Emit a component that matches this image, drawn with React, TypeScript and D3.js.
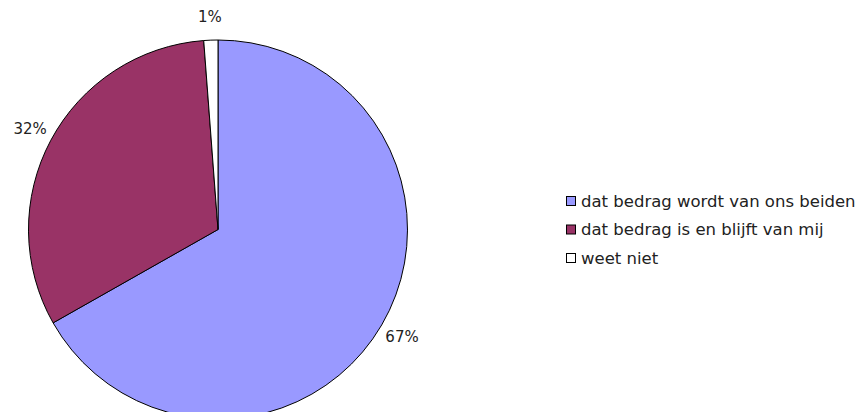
import React from "react";
import * as d3 from "d3";

const categories = ["dat bedrag wordt van ons beiden", "dat bedrag is en blijft van mij", "weet niet"];
const values = [66.8, 32.0, 1.2];
const labels = ["67%", "32%", "1%"];
const colors = ["#9999FF", "#993366", "#FFFFFF"];

export default function App() {
  const W = 866, H = 412;
  const cx = 218, cy = 229.5, r = 189.5;
  const pie = d3.pie<number>().sort(null).value(d => d)(values);
  const arc = d3.arc<d3.PieArcDatum<number>>().innerRadius(0).outerRadius(r);
  const labelR = 213;
  const font = "'DejaVu Sans', Verdana, sans-serif";
  return (
    <svg width={W} height={H} style={{ position: "absolute", left: 0, top: 0 }}>
      <rect width={W} height={H} fill="#fff" />
      <g transform={`translate(${cx},${cy})`}>
        {pie.map((p, i) => (
          <path key={i} d={arc(p) || ""} fill={colors[i]} stroke="#000" strokeWidth={1} />
        ))}
        {pie.map((p, i) => {
          const a = (p.startAngle + p.endAngle) / 2;
          return (
            <text key={"l" + i} x={Math.sin(a) * labelR} y={-Math.cos(a) * labelR}
              textAnchor="middle" dominantBaseline="central" fontFamily={font} fontSize={15} fill="#222">
              {labels[i]}
            </text>
          );
        })}
      </g>
      <g transform="translate(566,201)">
        {categories.map((c, i) => (
          <g key={c} transform={`translate(0,${i * 28.5})`}>
            <rect x={0.5} y={-4.5} width={9} height={9} fill={colors[i]} stroke="#000" strokeWidth={1} />
            <text x={15} y={0} dominantBaseline="central" fontFamily={font} fontSize={16.5} fill="#222">{c}</text>
          </g>
        ))}
      </g>
    </svg>
  );
}
